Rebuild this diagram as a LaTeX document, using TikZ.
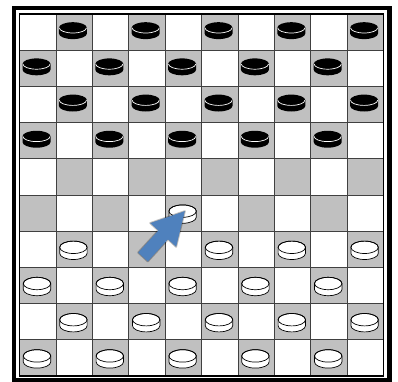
\documentclass[tikz,border=0pt]{standalone}
\usetikzlibrary{calc}
\definecolor{sq}{RGB}{192,192,192}
\definecolor{arrowblue}{RGB}{79,129,189}
\tikzset{
  gridline/.style={draw=black!75,line width=0.8pt},
  bpiece/.pic={
    \fill[black] (-14,4.3) -- (-14,-1.4) arc[start angle=180,end angle=360,x radius=14,y radius=5.6] -- (14,4.3) -- cycle;
    \fill[black] (0,4.3) ellipse[x radius=14,y radius=5.6];
    \draw[white,line width=0.7pt] (-13.6,4.3) arc[start angle=180,end angle=360,x radius=13.6,y radius=5.2];
  },
  wpiece/.pic={
    \filldraw[fill=white,draw=black,line width=0.7pt] (-13.7,2) -- (-13.7,-4) arc[start angle=180,end angle=360,x radius=13.7,y radius=6.2] -- (13.7,2) arc[start angle=0,end angle=180,x radius=13.7,y radius=6.2] -- cycle;
    \draw[black,line width=0.7pt] (0,2) ellipse[x radius=13.7,y radius=6.2];
  }
}
\begin{document}
\begin{tikzpicture}[x=1pt,y=1pt]
\useasboundingbox (0,0) rectangle (398,381);
\fill[white] (0,0) rectangle (398,381);
\begin{scope}
\clip (0,0) rectangle (398,381);
\draw[black,line width=4.5pt] (14,0.5) rectangle (389.5,373);
\end{scope}
% squares
\foreach \r in {0,...,9}{
  \foreach \c in {0,...,9}{
    \pgfmathtruncatemacro{\odd}{mod(\r+\c,2)}
    \ifnum\odd=1
      \fill[sq] ({19.5+36.4*\c},{367-36.2*(\r+1)}) rectangle ({19.5+36.4*(\c+1)},{367-36.2*\r});
    \fi
  }
}
\foreach \i in {1,...,9}{
  \draw[gridline] ({19.5+36.4*\i},5) -- ({19.5+36.4*\i},367);
  \draw[gridline] (19.5,{367-36.2*\i}) -- (383.5,{367-36.2*\i});
}
\draw[black,line width=1.1pt] (19.5,5) rectangle (383.5,367);
% black pieces
\foreach \r in {0,...,3}{
  \foreach \c in {0,...,9}{
    \pgfmathtruncatemacro{\odd}{mod(\r+\c,2)}
    \ifnum\odd=1
      \pic at ({19.5+36.4*(\c+0.5)-1.2},{367-36.2*(\r+0.5)}) {bpiece};
    \fi
  }
}
% white pieces
\foreach \r in {6,...,9}{
  \foreach \c in {0,...,9}{
    \pgfmathtruncatemacro{\odd}{mod(\r+\c,2)}
    \pgfmathtruncatemacro{\skipit}{(\r==6)&&(\c==3)}
    \ifnum\odd=1
      \ifnum\skipit=0
        \pic at ({19.5+36.4*(\c+0.5)-0.7},{367-36.2*(\r+0.5)}) {wpiece};
      \fi
    \fi
  }
}
\pic at ({19.5+36.4*4.5-0.7},{367-36.2*5.5}) {wpiece};
% arrow
\coordinate (a1) at (138.2,128.4);
\coordinate (a2) at (158.4,150.5);
\coordinate (a3) at (150.3,157.9);
\coordinate (tip) at (184.8,169.8);
\coordinate (a5) at (176.1,134.3);
\coordinate (a6) at (168.0,141.7);
\coordinate (a7) at (147.8,119.6);
\begin{scope}[shift={(-0.5,-2.5)}]
\filldraw[black,opacity=0.25,line width=2pt,line join=round] (a1) -- (a2) -- (a3) -- (tip) -- (a5) -- (a6) -- (a7) -- cycle;
\end{scope}
\fill[arrowblue] (a1) -- (a2) -- (a3) -- (tip) -- (a5) -- (a6) -- (a7) -- cycle;
\end{tikzpicture}
\end{document}
